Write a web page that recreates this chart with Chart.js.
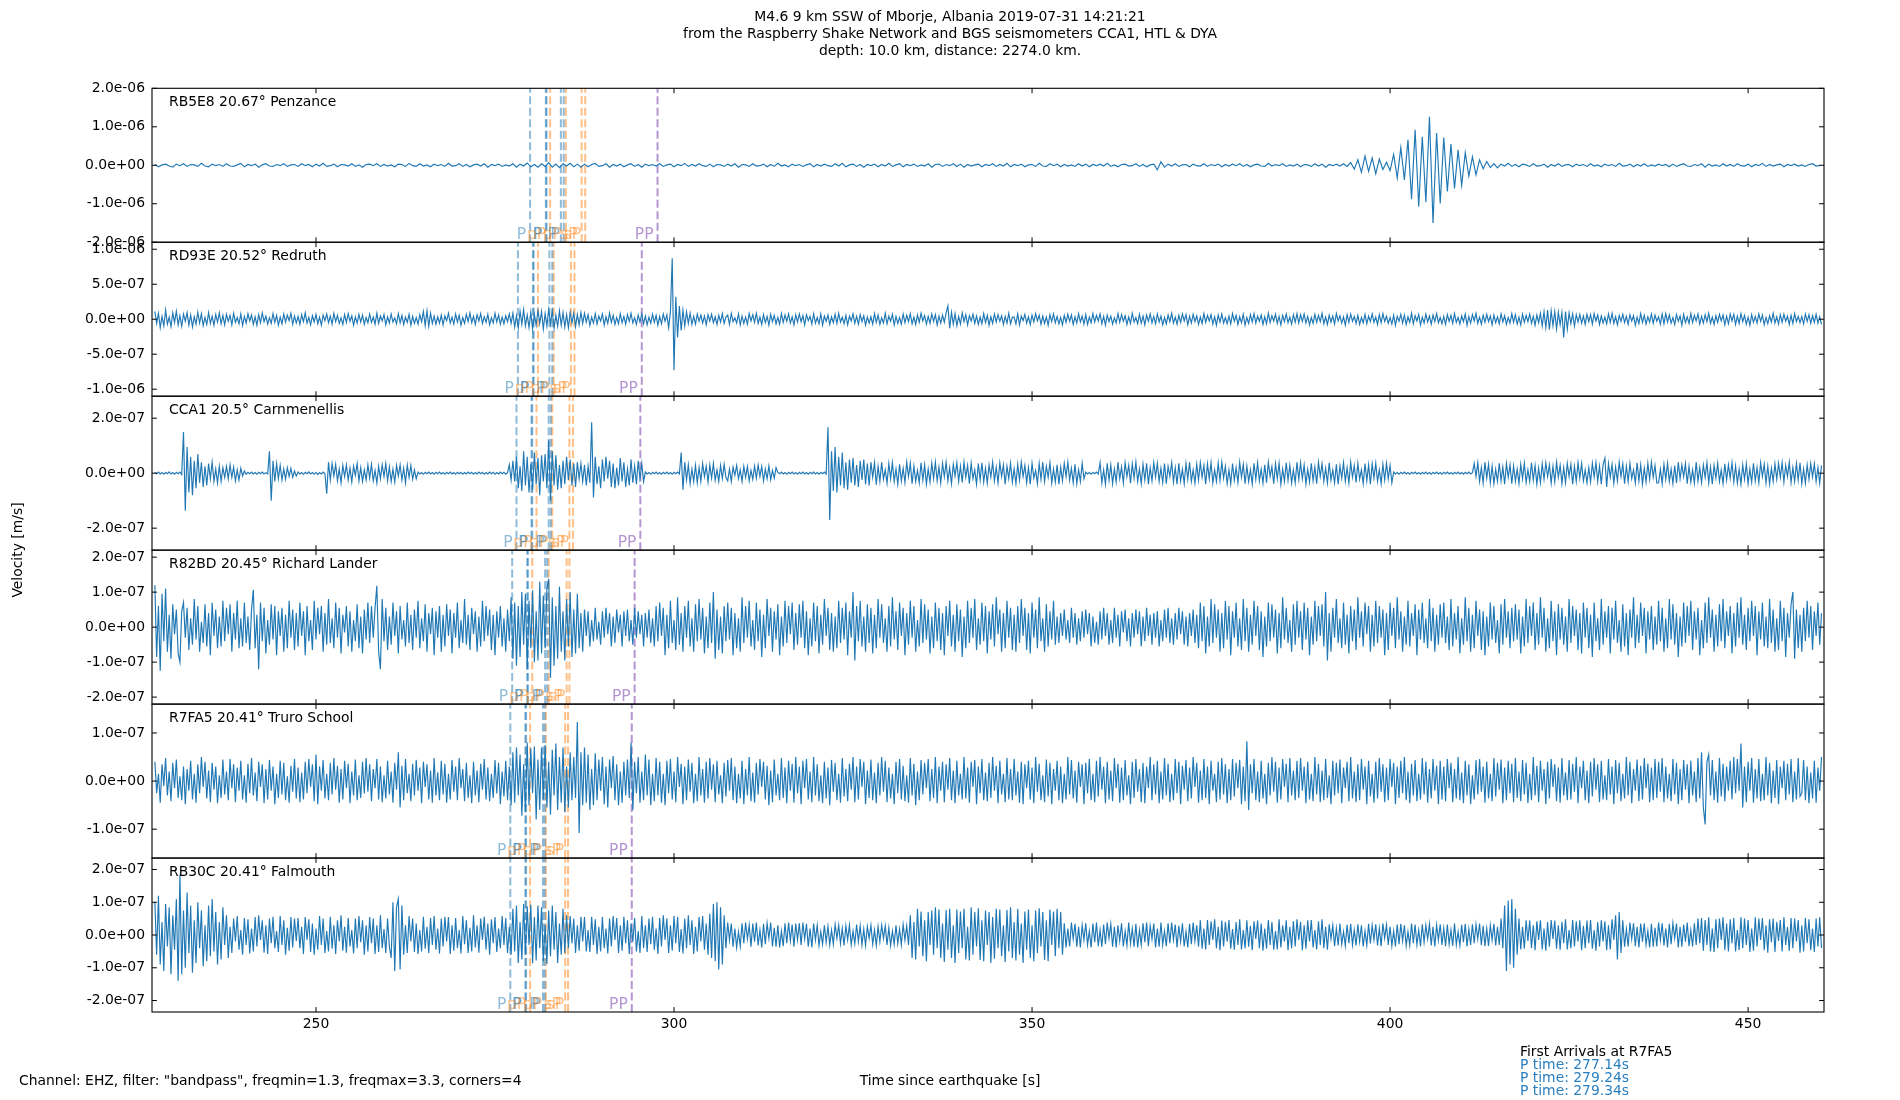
<!DOCTYPE html>
<html><head><meta charset="utf-8">
<script src="https://cdn.jsdelivr.net/npm/chart.js@4.4.0/dist/chart.umd.min.js"></script>
<style>html,body{margin:0;padding:0;background:#fff;overflow:hidden}canvas{display:block}</style>
</head><body>
<canvas id="c" width="1900" height="1100"></canvas>
<script>
// ---------------- data ----------------
const titleLines = [
  'M4.6 9 km SSW of Mborje, Albania 2019-07-31 14:21:21',
  'from the Raspberry Shake Network and BGS seismometers CCA1, HTL & DYA',
  'depth: 10.0 km, distance: 2274.0 km.'
];
const footerLeft = 'Channel: EHZ, filter: "bandpass", freqmin=1.3, freqmax=3.3, corners=4';
const xLabel = 'Time since earthquake [s]';
const yLabel = 'Velocity [m/s]';
const arrivalsTitle = 'First Arrivals at R7FA5';
const arrivalTimes = [277.14, 279.24, 279.34];

const xRange = [227.1, 460.6];
const xTicks = [250, 300, 350, 400, 450];
const sampleStart = 227.5;
const sampleSteps = [0.5, 0.25, 0.25, 0.25, 0.25, 0.25];

const stations = ['RB5E8 20.67° Penzance', 'RD93E 20.52° Redruth', 'CCA1 20.5° Carnmenellis',
                  'R82BD 20.45° Richard Lander', 'R7FA5 20.41° Truro School', 'RB30C 20.41° Falmouth'];
const yLimits = [2e-6, 1.1e-6, 2.8e-7, 2.2e-7, 1.6e-7, 2.35e-7];
const yTicksRB5E8 = [-2e-6, -1e-6, 0, 1e-6, 2e-6];
const yTicksRD93E = [-1e-6, -5e-7, 0, 5e-7, 1e-6];
const yTicksCCA1  = [-2e-7, 0, 2e-7];
const yTicksR82BD = [-2e-7, -1e-7, 0, 1e-7, 2e-7];
const yTicksR7FA5 = [-1e-7, 0, 1e-7];
const yTicksRB30C = [-2e-7, -1e-7, 0, 1e-7, 2e-7];
const ampUnits = [1e-8, 1e-9, 1e-9, 1e-9, 1e-9, 1e-9];

// velocity samples from 227.5 s (step per station above), in ampUnits
const traceRB5E8 = [
2,-4,1,3,-2,-5,3,-1,4,-3,2,1,-3,5,-2,-4,3,-1,2,-3,
4,-2,-3,1,5,-4,2,-1,3,-5,1,4,-2,-3,2,-1,4,-3,1,2,
-3,4,-1,2,-4,3,-2,5,-3,-1,3,-4,2,1,-2,4,-3,1,-5,2,
3,-1,4,-3,2,-2,1,-4,3,2,-3,5,-1,-3,4,-2,1,-4,3,-1,
2,-3,5,-2,-1,4,-3,2,-4,1,3,-2,4,-5,2,-1,3,-3,1,-2,
4,-5,3,-2,6,-4,2,-5,4,-3,7,-5,3,-6,4,-2,5,-4,3,-5,
3,-4,2,5,-3,-1,4,-5,2,-2,3,-4,1,4,-3,2,-5,3,-1,2,
-2,4,-3,1,3,-4,2,-1,5,-3,2,-2,4,-1,-3,3,-4,2,1,-3,
3,-2,4,-5,2,1,-3,4,-2,-1,3,-4,2,-3,5,-2,1,-4,3,-1,
2,-3,1,4,-4,2,-2,3,-1,-3,4,-2,5,-4,1,3,-3,2,-5,2,
-1,3,-4,2,-2,5,-3,1,4,-4,2,-1,3,-3,1,-2,4,-5,2,3,
-3,2,-1,4,-3,3,-5,2,-2,1,3,-4,2,-1,4,-3,2,-2,5,-4,
2,-1,3,-4,1,2,-3,5,-2,-3,4,-1,3,-4,2,-2,1,-3,4,-2,
3,-4,2,-1,3,-2,5,-3,1,-4,2,3,-2,-1,4,-3,2,-4,1,3,
-12,9,-5,3,-2,4,-3,1,2,-4,3,-1,-2,4,-3,2,-1,3,-4,2,
-2,3,-1,4,-3,2,-4,1,3,-2,-3,5,-2,2,-1,4,-3,1,-2,3,
-4,2,1,-3,4,-2,3,-5,2,-1,3,-2,4,-3,7,-10,14,-18,24,-16,
19,-22,16,-11,8,-14,28,-33,46,-38,66,-88,92,-108,74,-96,126,-150,84,-99,
72,-68,55,-60,40,-52,33,-28,22,-25,14,-9,10,-6,4,-7,3,-2,5,-3,
2,-4,3,1,-3,4,-2,-1,3,-5,2,-2,4,-3,1,2,-4,3,-1,2,
-3,4,-2,1,-4,3,-1,2,-3,5,-2,-1,3,-4,2,-2,4,-3,1,-2,
3,-1,2,-4,3,-3,1,4,-2,-3,2,-1,4,-5,3,-2,1,-3,4,-2,
2,-3,4,-1,-2,3,-4,2,-1,5,-3,2,-2,1,3,-4,2,-1,3,-2,
1,-3,2,4,-2,-1];

const traceRD93E = [
110,-60,85,-120,40,-95,130,-70,30,-105,90,-45,115,-80,50,-100,75,-30,95,-85,60,-110,35,-70,100,-55,80,-90,25,-75,95,-60,45,-85,70,-40,90,-65,55,-80,
70,-30,55,-80,85,-45,25,-65,75,-90,40,-55,80,-25,60,-75,35,-85,65,-50,90,-35,45,-70,20,-60,80,-45,55,-85,30,-65,75,-40,60,-20,85,-70,45,-55,
40,-75,65,-35,90,-55,25,-80,50,-40,70,-65,30,-85,60,-20,75,-50,45,-70,85,-35,55,-60,20,-75,65,-45,80,-30,50,-85,35,-55,70,-40,60,-75,25,-50,
75,-45,30,-70,85,-60,45,-25,65,-80,35,-55,75,-40,20,-65,80,-50,55,-75,30,-45,70,-85,40,-60,25,-70,65,-35,110,-90,120,-100,85,-60,45,-70,35,-55,
60,-80,45,-20,85,-55,30,-70,75,-40,55,-85,25,-60,70,-35,90,-50,40,-75,65,-25,80,-60,35,-45,70,-80,20,-55,85,-40,60,-70,30,-65,50,-35,75,-60,
85,-110,50,-125,115,-70,135,-95,60,-120,100,-135,70,-85,125,-60,110,-140,80,-95,140,-70,115,-130,55,-100,120,-85,95,-110,65,-120,100,-50,90,-105,70,-80,95,-60,
85,-40,65,-90,30,-55,80,-70,45,-25,75,-85,35,-60,90,-45,55,-75,25,-65,80,-50,40,-70,65,-30,85,-55,20,-75,60,-40,75,-65,45,-80,30,-55,70,-45,
55,-85,40,-65,75,-30,60,-120,105,870,-730,320,-260,190,-160,130,-95,105,-60,85,-75,40,-70,75,-30,60,-55,45,-80,65,-25,70,-50,35,-75,55,-40,80,-60,30,
60,-75,85,-35,20,-55,75,-80,45,-60,30,-70,80,-25,65,-45,85,-60,30,-75,65,-50,40,-85,70,-35,55,-65,25,-70,80,-45,60,-30,75,-55,35,-80,65,-40,
75,-35,50,-80,65,-20,40,-70,80,-55,25,-65,75,-85,45,-30,60,-75,35,-50,70,-60,85,-40,30,-65,55,-80,45,-25,75,-60,40,-70,65,-35,50,-85,30,-55,
35,-70,80,-45,60,-75,20,-55,85,-65,45,-30,70,-80,40,-60,25,-70,75,-50,55,-35,80,-65,30,-75,60,-45,85,-25,50,-70,40,-60,75,-30,65,-80,45,-55,
60,-45,90,190,-130,100,-70,80,-95,40,-70,90,-35,65,-80,50,-25,70,-60,45,-75,30,-65,80,-45,55,-85,35,-60,75,-40,65,-30,50,-75,40,-55,85,-65,30,
30,-65,75,-80,45,-20,70,-55,35,-75,60,-40,80,-25,55,-70,45,-60,30,-85,65,-35,75,-50,40,-65,25,-80,55,-45,70,-30,60,-75,35,-55,80,-40,45,-70,
65,-75,30,-50,80,-40,55,-25,75,-65,40,-85,60,-35,45,-70,20,-55,80,-45,65,-30,50,-75,35,-60,85,-40,25,-65,70,-55,45,-80,60,-30,75,-50,40,-65,
75,-40,45,-80,25,-65,60,-35,85,-55,30,-70,55,-45,75,-25,65,-80,40,-55,70,-35,50,-75,30,-60,80,-45,55,-25,65,-70,35,-85,60,-40,75,-55,25,-65,
45,-65,80,-30,55,-75,35,-50,70,-85,25,-60,65,-40,80,-55,45,-30,60,-75,35,-65,85,-45,50,-25,70,-60,40,-80,55,-35,75,-50,30,-70,65,-45,80,-55,
65,-30,75,-55,40,-80,25,-60,70,-45,55,-35,85,-65,30,-75,60,-40,45,-70,80,-25,50,-55,35,-85,65,-45,75,-30,40,-60,55,-75,25,-50,70,-65,45,-35,
75,-45,30,-75,65,-50,80,-35,45,-60,25,-70,55,-85,40,-30,70,-55,60,-75,35,-45,85,-65,50,-25,65,-80,30,-55,75,-40,45,-70,60,-35,80,-50,25,-65,
40,-75,65,-30,55,-60,80,-45,25,-70,50,-35,75,-85,40,-55,65,-25,85,-60,30,-70,55,-45,70,-35,45,-80,60,-50,35,-65,75,-40,50,-75,25,-55,80,-45,
65,-70,30,-80,70,-45,55,-35,75,-60,40,-85,60,-50,85,-95,105,-120,130,-150,120,-90,110,-140,100,-80,95,-260,110,-140,90,-60,75,-100,65,-40,70,-55,45,-75,
70,-35,65,-70,80,-25,60,-75,45,-55,30,-65,75,-45,85,-60,35,-80,55,-30,70,-50,40,-75,65,-25,50,-85,30,-60,80,-45,55,-70,35,-40,75,-55,60,-30,
35,-70,75,-65,80,-40,60,-55,25,-75,65,-30,45,-85,70,-50,35,-60,80,-45,55,-25,75,-70,40,-55,65,-35,85,-60,30,-75,50,-45,70,-25,60,-80,45,-65,
75,-25,70,-75,45,-60,80,-35,55,-70,30,-85,65,-45,40,-55,75,-30,60,-80,25,-65,50,-40,85,-55,35,-70,65,-45,70,-30,45,-75,55,-60,80,-35,40,-50,
40,-65,75,-30,65,-60,50,-45,70,-55,35,-75];

const traceCCA1 = [
3,-2,4,-3,2,-4,3,-2,5,-3,2,-4,3,-2,4,-5,150,-137,95,-70,60,-80,45,-55,70,-35,40,-50,25,-45,35,-20,40,-30,15,-35,25,-30,20,-15,
25,-20,30,-15,22,-28,12,-25,18,-10,8,-4,3,-2,4,-3,2,-4,3,-2,4,-3,2,-3,80,-100,45,-30,35,-20,28,-25,15,-22,20,-12,18,-15,8,-10,
4,-3,2,-4,3,-2,5,-3,2,-4,3,-5,2,-3,4,-2,-75,40,-25,35,-10,32,-28,15,-35,28,-12,30,-25,18,-32,25,-8,35,-28,20,-30,12,-25,30,
-18,32,-28,10,-35,25,-20,30,-12,35,-28,22,-30,15,-32,28,-10,30,-25,18,-35,30,-15,28,-22,12,-20,4,-3,2,-4,3,-2,4,-3,2,-4,3,-2,4,
-3,2,-4,3,-2,4,-3,2,-4,3,-2,3,-4,2,-3,4,-2,3,-4,2,-3,4,-2,3,-4,2,-3,4,-2,3,-4,2,-3,4,-2,3,-4,2,30,-25,
45,-30,60,-55,25,-65,80,-45,60,-70,35,-60,75,-40,55,-80,65,-30,70,-55,120,-100,80,-45,65,-60,30,-55,45,-40,60,-25,50,-45,35,-50,40,-20,35,-30,
30,-45,25,-35,185,-88,60,-40,25,-55,50,-30,60,-20,45,-50,35,-55,20,-45,55,-30,40,-50,15,-45,50,-35,25,-40,45,-20,35,-30,4,-3,2,-4,3,-2,
4,-3,2,-4,3,-2,4,-3,2,-4,3,-2,4,-3,75,-60,40,-25,30,-38,15,-30,28,-35,20,-30,35,-12,25,-32,30,-18,35,-25,12,-30,28,-20,32,-15,
-28,15,-30,22,-8,28,-20,12,-30,25,-15,24,-28,10,-22,26,-18,30,-12,25,-28,15,-20,26,-24,10,-18,20,3,-2,4,-3,2,-4,3,-2,4,-3,2,-4,
3,-2,4,-3,2,-4,3,-2,4,-3,2,-4,3,-2,4,-3,167,-170,80,-65,95,-70,60,-45,75,-55,40,-60,50,-35,55,-45,30,-50,45,-25,50,-40,35,-45,
40,-15,38,-42,25,-30,40,-22,12,-36,35,-20,38,-30,15,-40,32,-28,18,-34,40,-12,36,-38,25,-30,10,-35,38,-25,30,-40,15,-32,36,-20,40,-28,22,-36,
36,-12,40,-28,20,-38,32,-10,38,-30,25,-34,40,-15,28,-38,36,-20,12,-40,35,-25,38,-32,18,-36,30,-14,40,-28,22,-35,38,-12,30,-40,25,-20,36,-32,
15,-38,32,-25,40,-12,28,-35,20,-40,36,-18,10,-38,35,-22,40,-30,25,-15,38,-36,14,-32,30,-40,22,-28,36,-12,40,-25,18,-35,32,-38,12,-30,36,-20,
4,-3,2,-4,3,-2,4,-3,38,-35,12,-40,36,-25,30,-38,15,-32,40,-20,22,-35,38,-12,28,-36,34,-18,40,-30,15,-38,32,-25,36,-40,20,-28,38,-14,
36,-30,18,-34,35,-38,25,-12,38,-32,20,-40,36,-28,14,-38,35,-22,40,-30,12,-36,32,-25,38,-15,28,-40,34,-20,38,-35,12,-30,36,-26,40,-18,25,-38,
12,-38,35,-26,20,-34,40,-15,32,-38,25,-30,12,-40,36,-22,38,-28,15,-36,30,-35,40,-12,24,-38,34,-20,36,-40,15,-30,38,-25,28,-36,12,-35,40,-22,
38,-20,30,-40,14,-32,36,-28,22,-38,40,-12,34,-30,18,-36,38,-25,12,-35,32,-40,26,-18,38,-30,20,-36,40,-15,28,-34,36,-22,12,-38,35,-28,30,-40,
34,-18,36,-30,12,-38,32,-25,36,-20,28,-35,4,-3,2,-4,3,-2,4,-3,2,-4,3,-2,4,-3,2,-4,3,-2,4,-3,2,-4,3,-2,4,-3,2,-4,
3,-2,4,-3,2,-4,3,-2,4,-3,2,-4,3,-2,4,-3,2,35,-12,38,-30,20,-36,40,-18,32,-35,25,-38,14,-30,36,-28,22,-40,35,-15,30,-38,26,
-30,15,-38,32,-20,36,-34,12,-30,38,-25,28,-40,18,-35,34,-22,38,-12,30,-36,25,-32,40,-15,28,-38,20,-35,36,-12,32,-40,24,-30,38,-18,35,-28,12,
-35,20,-32,36,-14,38,-30,25,-40,32,55,-50,35,-15,32,-36,22,-28,40,-12,34,-38,25,-30,36,-20,12,-35,38,-28,30,-40,18,-32,36,-22,40,-15,28,-36,
-35,14,-38,32,-22,36,-30,15,-38,28,-36,40,-20,30,-12,35,-38,25,-32,12,-36,40,-28,20,-34,30,-15,38,-35,22,-40,28,-18,36,-30,12,-38,34,-25,30,
-18,38,-32,26,-36,14,-40,30,-22,34,-38,15,-32,36,-28,20,-35,38,-12,32,-36,25,-40,18,-30,34,-22,36,-15,38,-32,28,-12,40,-34,20,-30,35,-25,38,
-38,15,-36,30,-22,35,-14,34,-30,20,-36,28];

const traceR82BD = [
120,-85,60,-125,95,-40,110,-70,35,-90,65,-20,50,-75,-100,45,70,-30,55,-65,25,-50,80,-35,60,-70,15,-45,65,-55,40,-80,70,-25,50,-60,30,-55,75,-40,
55,-20,65,-70,40,-35,75,-60,25,-55,70,-45,30,-65,50,107,-60,35,-120,70,-40,55,-75,20,-50,65,-35,60,-80,45,-25,55,-70,35,-60,75,-30,50,-65,40,
-55,70,-25,45,-80,60,-40,20,-65,75,-35,55,-20,60,-70,40,-50,80,-45,25,-60,70,-30,55,-75,35,-15,60,-55,45,-70,20,-40,65,-60,30,-75,50,-35,70,
-45,60,-30,55,118,-70,-120,80,-40,55,-65,30,-50,70,-25,45,-75,60,-35,20,-55,70,-45,35,-65,50,-30,75,-60,25,-40,65,-70,40,-20,55,-80,45,-30,60,
-70,35,-55,65,-25,50,-75,40,-30,70,-60,20,-45,80,-50,35,-65,55,-20,45,-70,30,-55,75,-40,60,-25,50,-65,35,-80,45,-30,60,-55,25,-70,50,-40,85,
-90,70,-110,60,-85,100,-50,95,-120,75,-60,105,-100,45,-95,130,-75,90,-60,110,138,-145,85,-110,60,-90,115,-70,45,-95,80,-55,100,-85,50,-75,95,-60,40,-70,
50,-25,45,-55,20,-40,55,-35,15,-50,45,-30,55,-20,40,-55,30,-45,50,-15,35,-55,45,-25,50,-40,20,-50,55,-30,45,-20,35,-55,40,-30,50,-45,25,-55,
60,-40,70,-25,55,-80,35,-60,75,-45,20,-65,85,-50,40,-70,60,-30,75,-55,25,-70,65,-40,80,-35,55,-75,30,-60,70,-45,100,-90,50,-65,30,-75,60,-40,
70,-35,55,-80,40,-60,25,-70,85,-45,60,-30,75,-55,20,-65,70,-40,50,-85,35,-60,80,-25,55,-70,45,-35,65,-80,30,-55,75,-45,60,-20,70,-65,40,-50,
65,-30,75,-60,45,-80,25,-55,70,-40,60,-75,35,-50,80,-25,55,-65,40,-70,30,-60,75,-45,55,-35,70,-80,45,-30,100,-95,60,-40,75,-55,30,-70,65,-45,
55,-75,35,-60,80,-30,65,-45,25,-70,60,-55,85,-35,45,-65,70,-25,55,-80,40,-50,75,-30,60,-70,20,-55,80,-45,65,-35,50,-75,30,-60,70,-40,55,-65,
40,-80,60,-25,75,-55,35,-70,65,-40,50,-85,30,-60,75,-45,55,-30,80,-65,25,-50,70,-40,60,-75,45,-35,65,-55,85,-20,50,-70,40,-60,75,-30,55,-65,
35,-70,60,-45,80,-25,55,-65,40,-75,70,-30,50,-60,85,-40,25,-70,65,-55,45,-35,75,-50,30,-45,40,-25,50,-35,20,-45,55,-30,40,-50,25,-40,45,-30,
50,-20,40,-55,30,-45,15,-50,45,-35,55,-25,40,-50,20,-45,55,-30,35,-55,45,-15,50,-40,25,-55,40,-30,50,-20,45,-55,30,-40,55,-25,35,-50,40,-30,
45,-55,20,-40,50,-30,55,-45,25,-50,40,-35,55,-20,45,-50,30,-55,40,-25,50,-45,35,-60,70,-40,60,-75,30,-55,80,-45,65,-30,50,-70,40,-60,75,-35,
60,-80,45,-30,70,-55,25,-65,80,-40,55,-70,35,-50,75,-25,60,-65,45,-85,30,-55,70,-40,65,-30,50,-75,40,-60,85,-35,55,-45,20,-70,65,-50,75,-30,
45,-65,70,-35,55,-80,30,-50,75,-40,60,-25,65,-55,100,-95,40,-70,55,-30,80,-45,25,-60,70,-50,35,-75,60,-40,50,-65,85,-30,45,-55,70,-20,60,-70,
35,-55,75,-45,60,-30,50,-80,40,-65,70,-25,55,-60,85,-35,45,-70,30,-50,75,-55,40,-25,65,-80,50,-35,70,-45,25,-60,80,-40,55,-70,35,-50,65,-30,
70,-45,30,-65,80,-55,40,-35,60,-75,25,-50,85,-40,55,-70,35,-60,75,-25,50,-65,45,-80,30,-55,70,-35,60,-45,20,-75,65,-50,80,-30,45,-60,55,-40,
65,-35,50,-75,30,-55,80,-45,60,-25,70,-65,40,-50,85,-30,55,-70,25,-60,75,-40,45,-80,65,-35,55,-50,30,-70,80,-45,60,-25,50,-65,40,-75,70,-30,
55,-60,35,-85,70,-40,25,-65,80,-50,45,-30,60,-75,55,-35,75,-45,20,-70,65,-55,40,-80,50,-30,85,-60,35,-45,70,-25,55,-75,45,-35,60,-65,30,-50,
75,-40,55,-70,25,-60,80,-35,65,-50,40,-85,30,-55,70,-45,60,-25,75,-65,45,-35,55,-80,20,-60,70,-45,85,-30,50,-70,35,-55,65,-40,80,-60,45,-25,
60,-75,40,-55,70,-30,85,-50,35,-65,55,-40,75,-25,60,-80,45,-35,70,-55,30,-60,80,-45,50,-70,25,-65,75,-40,55,-85,40,-30,65,100,-90,50,-60,35,
-70,55,-40,75,-30,60,-65,45,-25,70,-50,40];

const traceR7FA5 = [
40,-25,15,-45,35,-10,48,-30,20,-42,38,-15,45,-35,10,-40,30,-48,25,-20,42,-38,15,-45,35,-25,50,-12,40,-36,22,-44,38,-18,30,-46,12,-35,45,-28,
20,-40,46,-15,35,-44,28,-20,42,-38,12,-45,36,-25,48,-30,18,-42,40,-12,35,-46,25,-38,44,-20,30,-48,15,-35,42,-28,38,-40,10,-45,32,-22,46,-36,
28,-44,18,-38,40,-25,46,-12,35,-42,55,-48,30,-20,44,-36,15,-40,38,-28,48,-18,32,-45,25,-38,42,-15,36,-46,20,-30,45,-40,12,-35,40,-26,48,-22,
35,-42,25,-15,46,-38,30,-44,12,-36,42,-28,20,-45,38,-18,60,-55,32,-40,46,-25,15,-42,36,-30,44,-20,28,-46,40,-12,35,-38,22,-45,48,-30,18,-40,
42,-28,36,-45,15,-38,44,-22,30,-40,48,-15,25,-42,38,-35,12,-46,40,-30,22,-44,36,-18,46,-38,28,-42,15,-35,44,-26,38,-48,20,-32,42,-40,30,-50,
60,-45,70,-30,55,-72,35,-65,80,-50,68,-25,72,-80,45,-60,70,-38,75,-55,40,-70,65,-30,78,-60,50,-45,70,-65,30,-55,60,-40,50,-35,123,-108,60,-50,
70,-45,55,-60,25,-50,58,-40,45,-20,50,-48,30,-55,45,-15,52,-40,35,-50,20,-45,40,-30,45,-35,80,-60,40,-25,50,-45,20,-40,55,-30,45,-50,15,-42,
48,-30,40,-45,15,-50,42,-25,46,-38,20,-44,50,-12,36,-48,30,-40,45,-22,38,-46,15,-42,50,-30,25,-45,40,-36,48,-18,35,-44,42,-28,12,-46,38,-32,
44,-20,48,-40,30,-46,15,-36,42,-48,25,-30,50,-42,18,-45,38,-28,46,-12,40,-38,32,-50,22,-44,45,-30,15,-40,48,-35,28,-46,42,-20,36,-45,50,-25,
30,-48,42,-15,46,-38,20,-44,50,-30,35,-42,12,-46,40,-36,28,-50,44,-22,38,-40,15,-45,48,-32,25,-42,36,-18,50,-44,30,-38,46,-12,40,-48,22,-35,
45,-40,18,-46,38,-30,50,-22,42,-44,28,-36,15,-48,40,-25,46,-38,32,-42,12,-45,48,-30,36,-50,20,-40,44,-28,38,-15,46,-42,25,-35,50,-46,30,-20,
40,-44,35,-18,48,-40,22,-46,42,-30,15,-38,50,-36,28,-45,40,-12,44,-48,30,-25,46,-40,18,-42,38,-35,50,-20,32,-46,42,-28,15,-44,48,-38,25,-40,
46,-30,20,-45,40,-48,35,-15,42,-38,28,-46,50,-22,36,-40,12,-44,45,-32,38,-48,25,-20,42,-40,30,-46,15,-38,50,-28,44,-36,22,-45,40,-12,35,-48,
38,-25,46,-40,15,-44,42,-32,50,-18,30,-46,40,-38,22,-42,48,-15,36,-45,28,-40,44,-30,12,-48,40,-35,46,-22,25,-44,38,-46,30,-15,50,-40,35,-28,
42,-46,20,-38,48,-30,36,-44,15,-40,46,-25,40,-48,32,-18,44,-42,28,-36,50,-12,38,-45,22,-40,46,-35,30,-48,42,-20,15,-44,40,-38,48,-28,35,-46,
25,-40,46,-32,38,-15,44,-48,30,-42,83,-60,35,-25,46,-40,20,-44,42,-36,15,-48,38,-30,50,-22,40,-45,28,-38,46,-12,36,-44,48,-30,22,-40,42,-35,
48,-20,30,-46,40,-38,15,-42,50,-28,36,-44,22,-40,46,-35,12,-48,42,-30,38,-25,45,-46,28,-15,40,-42,50,-36,20,-44,35,-40,46,-18,30,-48,42,-32,
15,-45,40,-36,48,-22,35,-44,28,-40,46,-12,38,-48,30,-35,42,-25,50,-40,20,-46,36,-30,44,-42,15,-38,48,-28,40,-45,25,-36,46,-20,32,-48,42,-38,
30,-42,46,-15,38,-44,25,-36,50,-40,18,-46,42,-30,35,-48,12,-38,44,-28,46,-22,30,-45,40,-36,15,-42,48,-32,38,-18,45,-46,28,-40,42,-25,36,-44,
48,-35,20,-42,44,-28,38,-46,15,-40,50,-30,32,-44,42,-20,25,-48,40,-36,46,-12,35,-42,28,-45,48,-30,18,-40,44,-38,36,-22,50,-46,30,-15,42,-40,
22,-46,40,-32,48,-18,35,-44,42,-38,12,-40,46,-28,30,-48,44,-25,38,-42,15,-36,50,-30,40,-46,25,-20,45,-42,32,-38,48,-15,36,-44,28,-40,46,-35,
40,-22,48,-44,30,-36,15,-42,46,-28,38,-48,25,-40,44,-18,35,-46,42,-30,20,-44,48,-36,60,-55,-90,40,55,-30,44,-40,20,-45,48,-32,36,-42,30,-20,
42,-38,50,-25,46,-20,78,-55,30,-44,40,-20,48,-45,25,-36,46,-42,15,-40,50,-30,38,-46,22,-35,44,-48,30,-15,42,-40,36,-28,46,-44,20,-38,48,-32,
-25,44,-40,30,-46,18,-36,42,-45,28,-20,50];

const traceRB30C = [
100,-60,120,-90,40,-110,95,-35,85,-120,60,-45,110,-140,185,-120,75,-100,130,-55,90,-115,45,-85,100,-40,75,-95,30,-80,90,-65,110,-50,70,-90,40,-75,85,-30,
60,-70,25,-55,50,-20,58,-45,15,-60,52,-30,48,-56,20,-50,55,-35,60,-15,45,-54,30,-58,50,-25,56,-40,12,-52,58,-30,45,-60,22,-48,55,-38,50,-18,
52,-40,25,-58,55,-15,48,-52,35,-60,20,-45,58,-30,50,-55,12,-50,56,-42,30,-58,45,-20,60,-48,25,-54,52,-35,15,-56,50,-40,58,-22,45,-60,30,-50,
55,-25,50,-58,30,-52,60,-40,18,-55,50,-35,-70,100,-110,85,110,-105,90,-60,30,-55,58,-20,50,-52,35,-58,15,-50,56,-42,25,-55,52,-30,58,-45,20,-56,
50,-35,56,-20,55,-58,30,-48,52,-40,15,-56,58,-28,45,-55,22,-50,60,-38,30,-54,50,-15,56,-45,35,-60,48,-25,55,-52,20,-40,58,-30,52,-55,25,-60,
80,-50,90,-85,40,-75,95,-60,88,-30,92,-86,55,-78,90,-40,85,-80,30,-88,75,-65,90,-45,70,-85,35,-60,80,-55,60,-40,58,-25,50,-55,30,-48,56,-20,
55,-50,15,-52,56,-30,48,-58,25,-50,55,-40,20,-56,50,-35,58,-15,52,-55,30,-48,56,-25,45,-58,35,-20,52,-50,12,-55,58,-40,30,-52,50,-28,56,-45,
20,-58,52,-35,60,-15,50,-55,30,-48,58,-25,55,-52,18,-56,50,-40,60,-30,45,-58,25,-50,55,-20,58,-45,35,-60,65,-70,95,-80,100,-105,85,-90,60,-40,
38,-15,35,-36,20,-38,10,-34,36,-25,38,-12,30,-36,35,-20,38,-32,15,-38,34,-28,36,-10,38,-35,22,-36,30,-38,12,-34,36,-25,38,-18,32,-36,35,-15,
36,-30,38,-12,34,-36,20,-38,35,-15,30,-32,10,-28,30,-22,26,-30,15,-28,32,-10,30,-26,20,-32,28,-15,30,-30,12,-26,32,-20,28,-30,18,-32,26,-10,
30,-28,15,-32,26,-20,30,-10,28,-30,22,-32,12,-28,30,-26,18,-30,32,-15,28,-30,60,-70,40,-75,80,-35,72,-65,45,-80,70,-30,75,-60,85,-40,78,-70,
35,-82,76,-45,80,-70,30,-85,78,-55,72,-40,80,-75,25,-78,85,-60,70,-35,82,-76,45,-80,75,-30,70,-85,55,-72,80,-40,78,-65,30,-82,76,-50,85,-70,
40,-78,80,-60,35,-85,72,-45,78,-70,30,-80,75,-55,82,-35,70,-76,45,-80,78,-30,72,-65,80,-40,70,-60,36,-38,20,-35,38,-12,34,-36,25,-38,30,-15,
36,-30,12,-38,35,-22,38,-34,15,-36,32,-28,38,-10,34,-36,25,-38,30,-18,36,-35,12,-32,38,-26,20,-36,34,-38,15,-30,36,-22,38,-34,28,-12,35,-38,
20,-36,38,-30,12,-34,36,-25,38,-15,32,-38,28,-20,36,-35,10,-38,34,-28,38,-18,30,-36,45,-42,20,-44,46,-30,42,-15,48,-40,25,-46,44,-35,40,-20,
46,-42,18,-45,40,-30,48,-44,15,-40,45,-36,28,-46,42,-12,44,-40,35,-48,20,-42,46,-30,40,-45,12,-44,48,-38,30,-20,45,-46,25,-40,42,-35,48,-15,
40,-46,30,-42,45,-20,46,-38,15,-44,42,-30,48,-40,25,-45,33,-12,30,-34,20,-32,35,-28,10,-33,31,-25,34,-30,15,-32,33,-20,30,-35,12,-31,34,-26,
30,-15,33,-32,20,-34,35,-10,31,-30,25,-33,12,-35,32,-28,34,-18,30,-33,10,-31,35,-25,32,-30,15,-34,33,-22,30,-12,34,-32,25,-35,31,-15,33,-30,
20,-34,32,-28,15,-33,35,-30,10,-32,31,-22,34,-35,18,-30,33,-25,32,-12,35,-31,28,-34,20,-33,30,-15,34,-32,25,-30,50,-40,90,-110,105,-90,110,-100,
80,-60,50,-44,25,-42,45,-18,44,-40,30,-46,42,-15,45,-44,20,-48,40,-36,46,-12,44,-42,30,-45,40,-25,48,-44,15,-40,46,-35,42,-20,45,-46,28,-40,
44,-25,46,-42,15,-48,40,-35,45,-20,42,-46,30,-44,48,-15,60,-75,70,-55,45,-36,18,-35,38,-12,36,-34,25,-38,35,-20,36,-30,12,-38,34,-36,22,-35,
38,-15,36,-32,20,-38,34,-28,36,-10,35,-38,25,-36,32,-20,38,-34,15,-35,36,-30,50,-25,52,-48,46,-30,54,-50,20,-52,48,-40,50,-15,54,-46,35,-50,
48,-25,52,-50,15,-46,54,-40,50,-30,46,-52,20,-48,54,-35,50,-15,52,-46,30,-54,48,-22,50,-52,40,-18,46,-50,54,-30,25,-48,52,-40,50,-20,46,-54,
30,-50,52,-25,48,-46,20,-52,50,-35,54,-40];

// phase arrival lines per station (s)
const phaseNames = ['P', 'P', 'P', 'pP', 'P', 'P', 'pP', 'sP', 'sP', 'PP'];
const phaseKinds = ['P', 'P', 'P', 'pP', 'P', 'P', 'pP', 'pP', 'pP', 'PP'];
const phasesRB5E8 = [279.9, 282.1, 282.2, 282.7, 284.2, 284.6, 284.9, 287.1, 287.6, 297.7];
const phasesRD93E = [278.2, 280.3, 280.4, 281.0, 282.6, 283.0, 283.2, 285.6, 286.1, 295.5];
const phasesCCA1  = [278.0, 280.1, 280.2, 280.8, 282.5, 282.8, 283.0, 285.4, 285.9, 295.3];
const phasesR82BD = [277.4, 279.5, 279.6, 280.2, 282.0, 282.3, 282.5, 285.0, 285.4, 294.5];
const phasesR7FA5 = [277.14, 279.24, 279.34, 279.9, 281.7, 281.95, 282.1, 284.8, 285.2, 294.1];
const phasesRB30C = [277.14, 279.24, 279.34, 279.9, 281.7, 281.95, 282.1, 284.8, 285.2, 294.1];

// ---------------- build ----------------
const traces = [traceRB5E8, traceRD93E, traceCCA1, traceR82BD, traceR7FA5, traceRB30C];
const yTicks = [yTicksRB5E8, yTicksRD93E, yTicksCCA1, yTicksR82BD, yTicksR7FA5, yTicksRB30C];
const phases = [phasesRB5E8, phasesRD93E, phasesCCA1, phasesR82BD, phasesR7FA5, phasesRB30C];
const kindColor = {P: 'rgba(31,119,180,0.5)', pP: 'rgba(255,127,14,0.5)', PP: 'rgba(148,103,189,0.7)'};
const FONT = '"DejaVu Sans", sans-serif';
const FS = 13.9;
const panelIds = traces.map((_, k) => 'y' + (k + 1));

function fmtExp(v) {
  return Number(v).toExponential(1).replace(/e([+-])(\d)$/, 'e$10$2');
}

const datasets = [];
traces.forEach((arr, k) => {
  datasets.push({
    label: stations[k],
    yAxisID: panelIds[k],
    data: arr.map((v, i) => ({x: sampleStart + i * sampleSteps[k], y: v * ampUnits[k]})),
    borderColor: '#1f77b4', borderWidth: 1.15, pointRadius: 0, tension: 0, fill: false
  });
});
phases.forEach((list, k) => {
  list.forEach((t, j) => {
    datasets.push({
      label: phaseNames[j], yAxisID: panelIds[k],
      data: [{x: t, y: -yLimits[k]}, {x: t, y: yLimits[k]}],
      borderColor: kindColor[phaseKinds[j]], borderWidth: 2, borderDash: [8, 3.5],
      pointRadius: 0, fill: false
    });
  });
});

const scales = {
  x: {
    type: 'linear', position: 'bottom', min: xRange[0], max: xRange[1],
    grid: {display: false, drawTicks: false}, border: {display: false},
    ticks: {padding: 4, color: '#000', font: {family: FONT, size: FS}, maxRotation: 0},
    afterBuildTicks: s => { s.ticks = xTicks.map(v => ({value: v})); },
    afterFit: s => { s.height = 60; }
  }
};
panelIds.forEach((id, k) => {
  scales[id] = {
    type: 'linear', position: 'left', stack: 'panels', stackWeight: 1, weight: 10 - k,
    min: -yLimits[k], max: yLimits[k],
    grid: {display: false, drawTicks: false}, border: {display: false},
    ticks: {padding: 7, color: '#000', font: {family: FONT, size: FS}, callback: v => fmtExp(v)},
    afterBuildTicks: s => { s.ticks = yTicks[k].map(v => ({value: v})); },
    afterFit: s => { s.width = 152; }
  };
});

function seg(ctx, x1, y1, x2, y2) { ctx.beginPath(); ctx.moveTo(x1, y1); ctx.lineTo(x2, y2); ctx.stroke(); }

const panelPlugin = {
  id: 'panels',
  beforeDatasetDraw(chart, args) {
    const ds = chart.data.datasets[args.index];
    const s = chart.scales[ds.yAxisID];
    const a = chart.chartArea;
    const ctx = chart.ctx;
    ctx.save();
    ctx.beginPath();
    ctx.rect(a.left, s.top, a.right - a.left, s.bottom - s.top);
    ctx.clip();
  },
  afterDatasetDraw(chart) { chart.ctx.restore(); },
  afterDraw(chart) {
    const ctx = chart.ctx, a = chart.chartArea, xs = chart.scales.x;
    ctx.save();
    panelIds.forEach((id, k) => {
      const s = chart.scales[id];
      // phase labels
      ctx.font = '15.5px ' + FONT;
      ctx.textAlign = 'right'; ctx.textBaseline = 'alphabetic';
      phases[k].forEach((t, j) => {
        ctx.fillStyle = kindColor[phaseKinds[j]];
        ctx.fillText(phaseNames[j], xs.getPixelForValue(t) - 4, s.bottom - 3.5);
      });
      // frame and inward ticks
      ctx.strokeStyle = '#000'; ctx.lineWidth = 1.1;
      ctx.strokeRect(a.left, s.top, a.right - a.left, s.bottom - s.top);
      ctx.lineWidth = 1;
      xTicks.forEach(v => {
        const px = xs.getPixelForValue(v);
        seg(ctx, px, s.top, px, s.top + 4.9);
        seg(ctx, px, s.bottom, px, s.bottom - 4.9);
      });
      yTicks[k].forEach(v => {
        const py = s.getPixelForValue(v);
        seg(ctx, a.left, py, a.left + 4.9, py);
        seg(ctx, a.right, py, a.right - 4.9, py);
      });
      // station label
      ctx.font = FS + 'px ' + FONT;
      ctx.fillStyle = '#000'; ctx.textAlign = 'left'; ctx.textBaseline = 'middle';
      ctx.fillText(stations[k], a.left + 17, s.top + 14);
    });
    ctx.font = FS + 'px ' + FONT;
    // title
    ctx.fillStyle = '#000'; ctx.textAlign = 'center'; ctx.textBaseline = 'middle';
    titleLines.forEach((l, i) => ctx.fillText(l, 950, 17.5 + i * 16.7));
    // footer
    ctx.fillText(xLabel, 950, 1081.5);
    ctx.textAlign = 'left';
    ctx.fillText(footerLeft, 19, 1081.5);
    ctx.fillText(arrivalsTitle, 1520, 1052);
    ctx.fillStyle = '#2a7fc0';
    arrivalTimes.forEach((t, i) => ctx.fillText('P time: ' + t.toFixed(2) + 's', 1520, 1065 + i * 13.3));
    // y label
    ctx.fillStyle = '#000';
    ctx.translate(18.5, 550);
    ctx.rotate(-Math.PI / 2);
    ctx.textAlign = 'center';
    ctx.fillText(yLabel, 0, 0);
    ctx.restore();
  }
};

new Chart(document.getElementById('c'), {
  type: 'line',
  data: {datasets},
  options: {
    responsive: false, animation: false, devicePixelRatio: 1,
    parsing: true, normalized: true,
    layout: {padding: {top: 88.3, left: 0, right: 76, bottom: 28}},
    plugins: {legend: {display: false}, tooltip: {enabled: false}, title: {display: false}},
    scales
  },
  plugins: [panelPlugin]
});
</script>
</body></html>
